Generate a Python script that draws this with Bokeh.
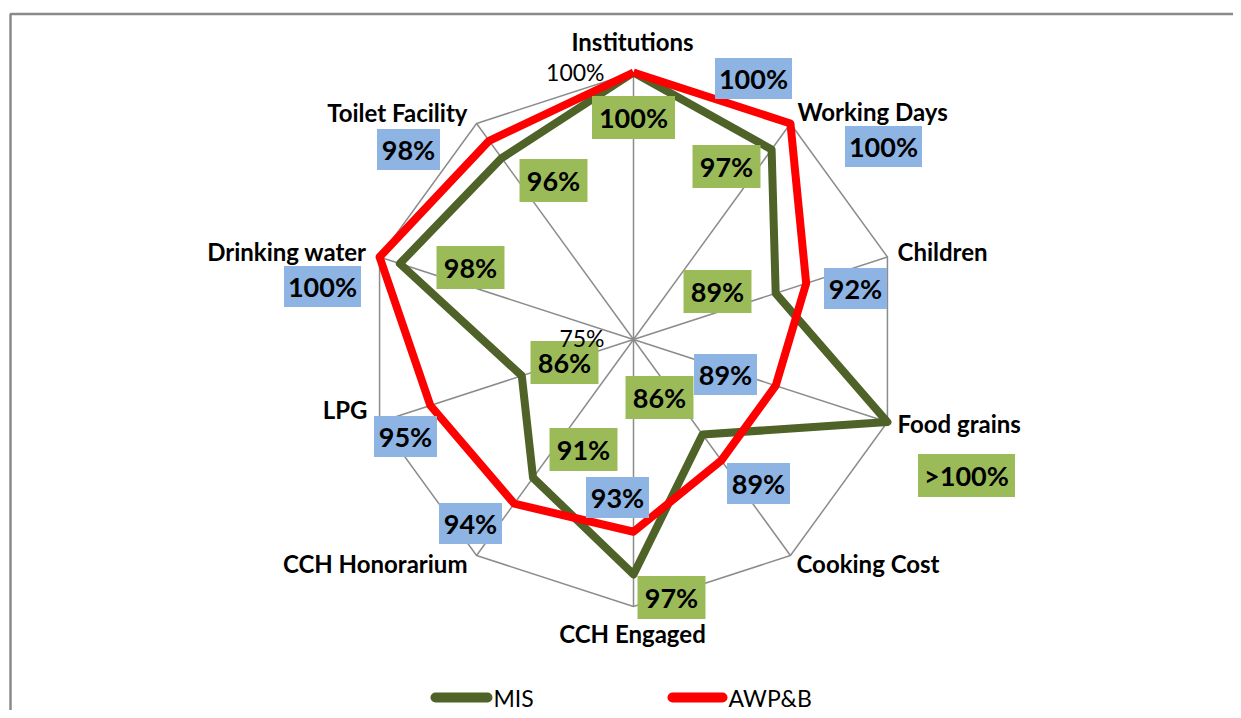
import math
from bokeh.plotting import figure
from bokeh.models import Range1d, ColumnDataSource
from bokeh.core.properties import value
from bokeh.embed import file_html
from bokeh.resources import INLINE

# ---------------- data ----------------
categories = ["Institutions", "Working Days", "Children", "Food grains", "Cooking Cost",
              "CCH Engaged", "CCH Honorarium", "LPG", "Drinking water", "Toilet Facility"]
mis_values = [100, 97, 89, 100, 86, 97, 91, 86, 98, 96]
mis_labels = ["100%", "97%", "89%", ">100%", "86%", "97%", "91%", "86%", "98%", "96%"]
awp_values = [100, 100, 92, 89, 89, 93, 94, 95, 100, 98]
awp_labels = ["100%", "100%", "92%", "89%", "89%", "93%", "94%", "95%", "100%", "98%"]
series_names = ["MIS", "AWP&B"]
r_min, r_max = 75, 100
r_tick_labels = ["75%", "100%"]

# ---------------- layout (pixel positions in the picture) ----------------
W, H = 1233, 710
CX, CY, R = 633, 339, 267   # radar centre & outer radius in pixels

def u(px, py):
    """picture pixel -> radar units (radius 1 = outer ring)"""
    return (px - CX) / R, (CY - py) / R

mis_label_pos = [(633, 117), (726, 166), (717, 291), (966, 475), (659, 397),
                 (671, 597), (583, 449), (564, 362), (470, 267), (553, 180)]
awp_label_pos = [(753, 78), (883, 146), (855, 288), (725, 374), (758, 483),
                 (617, 497), (470, 523), (405, 436), (322, 286), (408, 149)]
cat_label_pos = [(632, 41, "center"), (797, 111, "left"), (897, 251, "left"),
                 (897, 423, "left"), (796, 563, "left"), (632, 633, "center"),
                 (467, 563, "right"), (367, 409, "right"), (366, 251, "right"),
                 (467, 112, "right")]

GREEN_LINE = "#4F6228"
RED_LINE = "#FF0000"
GREEN_BOX = "#9BBB59"
BLUE_BOX = "#8DB4E2"
GRID = "#8C8C8C"
FONT = "Lato"

x0, y1 = u(0, 0)
x1, y0 = u(W, H)

p = figure(width=W, height=H, x_range=Range1d(x0, x1), y_range=Range1d(y0, y1),
           output_backend="svg", toolbar_location=None, min_border=0)
p.axis.visible = False
p.grid.visible = False
p.outline_line_color = None
p.background_fill_color = "white"
p.border_fill_color = "white"

# chart border (top & left visible)
bx0, by0 = u(10, 13.5)
bx1, by1 = u(1300, 800)
p.line([bx1, bx0, bx0], [by0, by0, by1], line_color="#8A8A8A", line_width=2.5)

n = len(categories)
angles = [2 * math.pi * i / n for i in range(n)]

def pt(v, a):
    r = (v - r_min) / (r_max - r_min)
    return r * math.sin(a), r * math.cos(a)

# spokes + outer ring
for a in angles:
    ox, oy = pt(r_max, a)
    p.line([0, ox], [0, oy], line_color=GRID, line_width=1.5)
ring = [pt(r_max, a) for a in angles]
p.line([q[0] for q in ring] + [ring[0][0]], [q[1] for q in ring] + [ring[0][1]],
       line_color=GRID, line_width=1.5)

# series lines
for vals, col in [(mis_values, GREEN_LINE), (awp_values, RED_LINE)]:
    pts = [pt(v, a) for v, a in zip(vals, angles)]
    xs = [q[0] for q in pts] + [pts[0][0]]
    ys = [q[1] for q in pts] + [pts[0][1]]
    p.line(xs, ys, line_color=col, line_width=8, line_join="round")

# category labels
for cat, (lx, ly, al) in zip(categories, cat_label_pos):
    ux, uy = u(lx, ly)
    p.text([ux], [uy], text=[cat], text_align=al, text_baseline="middle",
           text_font=value(FONT), text_font_size="24px", text_font_style="bold",
           text_color="#000000")

# value labels with boxes
def boxes(labels, pos, color, h, widths):
    xs, ys, ws = [], [], []
    for lab, (lx, ly) in zip(labels, pos):
        ux, uy = u(lx, ly)
        xs.append(ux); ys.append(uy); ws.append(widths[len(lab)])
    src = ColumnDataSource(dict(x=xs, y=ys, w=ws, t=labels))
    p.rect("x", "y", width="w", height=h, width_units="screen", height_units="screen",
           fill_color=color, line_color=None, source=src)
    p.text("x", "y", text="t", text_align="center", text_baseline="middle",
           text_font=value(FONT), text_font_size="27px", text_font_style="bold",
           text_color="#000000", source=src)

boxes(mis_labels, mis_label_pos, GREEN_BOX, 43, {3: 68, 4: 83, 5: 97})
boxes(awp_labels, awp_label_pos, BLUE_BOX, 41, {3: 63, 4: 77, 5: 90})

# radial tick labels (drawn above the boxes)
tx, ty = u(604, 71)
p.text([tx], [ty], text=[r_tick_labels[1]], text_align="right", text_baseline="middle",
       text_font=value(FONT), text_font_size="23px", text_color="#000000")
tx, ty = u(604, 337)
p.text([tx], [ty], text=[r_tick_labels[0]], text_align="right", text_baseline="middle",
       text_font=value(FONT), text_font_size="23px", text_color="#000000")

# legend
for name, col, (lx0, lx1) in [(series_names[0], GREEN_LINE, (435, 487)),
                               (series_names[1], RED_LINE, (672, 722))]:
    ax, ay = u(lx0, 697)
    bx, _ = u(lx1, 697)
    p.line([ax, bx], [ay, ay], line_color=col, line_width=10, line_cap="round")
    tx, ty = u(lx1 + 6, 697)
    p.text([tx], [ty], text=[name], text_align="left", text_baseline="middle",
           text_font=value(FONT), text_font_size="23px", text_color="#000000")

open("out.html", "w").write(file_html(p, INLINE))
